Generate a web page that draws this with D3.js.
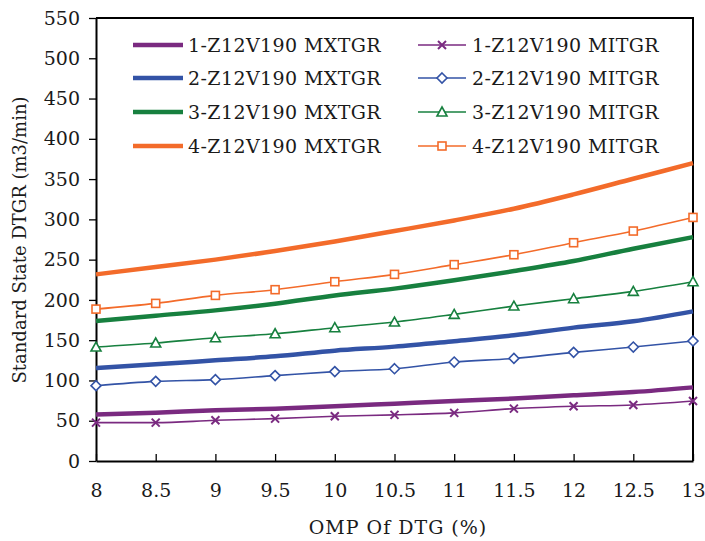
<!DOCTYPE html>
<html>
<head>
<meta charset="utf-8">
<script src="https://cdn.jsdelivr.net/npm/d3@7"></script>
<style>
  body { margin: 0; background: #fff; }
</style>
</head>
<body>
<div id="chart"></div>
<script>
// x values (OMP of DTG, %)
var omp = [8, 8.5, 9, 9.5, 10, 10.5, 11, 11.5, 12, 12.5, 13];

// max TGR curves (thick lines)
var mx1 = [57.6, 60, 62.9, 65, 67.9, 71.2, 74.5, 77.6, 81.5, 85.6, 91.4];
var mx2 = [115.4, 120, 125, 130, 137, 142, 148.8, 156, 165.6, 173.4, 185.8];
var mx3 = [173.7, 180.4, 187, 195.3, 205.6, 214, 224.3, 235.8, 248.2, 263.6, 278];
var mx4 = [231.7, 240.8, 250, 260.6, 272.6, 285.5, 298.7, 313.2, 331, 350.4, 369.8];

// min TGR curves (thin lines with markers)
var mi1 = [47.6, 47.6, 50.5, 52.6, 55.5, 57.3, 59.8, 65, 67.9, 69.6, 74.5];
var mi2 = [93.5, 98.9, 101, 106, 111, 114.6, 122.9, 127.4, 134.9, 141.5, 149];
var mi3 = [141.5, 146.5, 153, 158, 165.5, 172.5, 182, 192.4, 201.5, 210.6, 222.6];
var mi4 = [188.6, 195.7, 205.6, 212.7, 222.6, 231.7, 243.8, 256.1, 271, 285.5, 302.4];

var mxNames = ["1-Z12V190 MXTGR", "2-Z12V190 MXTGR", "3-Z12V190 MXTGR", "4-Z12V190 MXTGR"];
var miNames = ["1-Z12V190 MITGR", "2-Z12V190 MITGR", "3-Z12V190 MITGR", "4-Z12V190 MITGR"];
var xTicks = [8, 8.5, 9, 9.5, 10, 10.5, 11, 11.5, 12, 12.5, 13];
var yTicks = [0, 50, 100, 150, 200, 250, 300, 350, 400, 450, 500, 550];

var colors = ["#7a2a80", "#3353a6", "#17803f", "#f36b2a"];
var markers = ["x", "diamond", "triangle", "square"];

var serif = '"DejaVu Serif", serif';

var svgWidth = 705;
var svgHeight = 541;
var margin = { top: 18, right: 12, bottom: 80, left: 96 };
var width = svgWidth - margin.left - margin.right;
var height = svgHeight - margin.top - margin.bottom;

var svg = d3.select("#chart")
  .append("svg")
  .attr("width", svgWidth)
  .attr("height", svgHeight)
  .attr("font-family", serif)
  .style("font-family", serif);

var chartGroup = svg.append("g")
  .attr("transform", `translate(${margin.left}, ${margin.top})`);

var xScale = d3.scaleLinear().domain([8, 13]).range([0, width]);
var yScale = d3.scaleLinear().domain([0, 550]).range([height, 0]);

// frame (top / right)
chartGroup.append("path")
  .attr("d", `M0,0H${width}V${height}`)
  .attr("fill", "none")
  .attr("stroke", "#000")
  .attr("stroke-width", 2);

// axes
var bottomAxis = d3.axisBottom(xScale).tickValues(xTicks).tickSizeInner(-7).tickSizeOuter(0).tickPadding(23)
  .tickFormat(d3.format("~g"));
var leftAxis = d3.axisLeft(yScale).tickValues(yTicks).tickSizeInner(7).tickSizeOuter(0).tickPadding(9);

var gx = chartGroup.append("g")
  .attr("transform", `translate(0, ${height})`)
  .call(bottomAxis);
var gy = chartGroup.append("g").call(leftAxis);

[gx, gy].forEach(function(g) {
  g.attr("font-family", serif).attr("font-size", 19);
  g.select(".domain").attr("stroke", "#000").attr("stroke-width", 2);
  g.selectAll(".tick line").attr("stroke", "#000").attr("stroke-width", 1.3);
  g.selectAll(".tick text")
    .attr("fill", "#1a1a1a")
    .style("font-family", serif)
    .style("font-size", "19px");
});

var line = d3.line()
  .x((d, i) => xScale(omp[i]))
  .y(d => yScale(d))
  .curve(d3.curveMonotoneX);

// marker drawing helper
function drawMarker(g, type, color) {
  if (type === "x") {
    g.append("path").attr("d", "M-4,-4L4,4M-4,4L4,-4")
      .attr("stroke", color).attr("stroke-width", 2).attr("fill", "none");
  } else if (type === "diamond") {
    g.append("path").attr("d", "M0,-5L5,0L0,5L-5,0Z")
      .attr("stroke", color).attr("stroke-width", 1.6).attr("fill", "#fff");
  } else if (type === "triangle") {
    g.append("path").attr("d", "M0,-5L5,4L-5,4Z")
      .attr("stroke", color).attr("stroke-width", 1.6).attr("fill", "#fff");
  } else {
    g.append("rect").attr("x", -4).attr("y", -4).attr("width", 8).attr("height", 8)
      .attr("stroke", color).attr("stroke-width", 1.6).attr("fill", "#fff");
  }
}

var mxSeries = [mx1, mx2, mx3, mx4];
var miSeries = [mi1, mi2, mi3, mi4];

mxSeries.forEach(function(s, k) {
  chartGroup.append("path")
    .datum(s)
    .attr("d", line)
    .attr("fill", "none")
    .attr("stroke", colors[k])
    .attr("stroke-width", 4.5);
});

miSeries.forEach(function(s, k) {
  chartGroup.append("path")
    .datum(s)
    .attr("d", line)
    .attr("fill", "none")
    .attr("stroke", colors[k])
    .attr("stroke-width", 1.6);
  chartGroup.selectAll(".m" + k)
    .data(s)
    .enter()
    .append("g")
    .attr("class", "m" + k)
    .attr("transform", (d, i) => `translate(${xScale(omp[i])}, ${yScale(d)})`)
    .each(function() { drawMarker(d3.select(this), markers[k], colors[k]); });
});

function addText(parent) {
  return parent.append("text")
    .attr("fill", "#1a1a1a")
    .style("font-family", serif)
    .style("font-size", "19px");
}

// legend
var legend = svg.append("g");
var rowY = [45, 78, 112, 146];
mxNames.forEach(function(name, k) {
  legend.append("line")
    .attr("x1", 133).attr("x2", 183)
    .attr("y1", rowY[k]).attr("y2", rowY[k])
    .attr("stroke", colors[k]).attr("stroke-width", 4.5);
  addText(legend)
    .attr("x", 188).attr("y", rowY[k]).attr("dy", "0.35em")
    .style("letter-spacing", "0.4px")
    .text(name);
});
miNames.forEach(function(name, k) {
  legend.append("line")
    .attr("x1", 418).attr("x2", 466)
    .attr("y1", rowY[k]).attr("y2", rowY[k])
    .attr("stroke", colors[k]).attr("stroke-width", 1.6);
  var mg = legend.append("g").attr("transform", `translate(442, ${rowY[k]})`);
  drawMarker(mg, markers[k], colors[k]);
  addText(legend)
    .attr("x", 472).attr("y", rowY[k]).attr("dy", "0.35em")
    .style("letter-spacing", "0.4px")
    .text(name);
});

// axis titles
addText(svg)
  .attr("transform", "translate(26, 240) rotate(-90)")
  .attr("text-anchor", "middle")
  .style("font-size", "18px")
  .text("Standard State DTGR (m3/min)");

addText(svg)
  .attr("x", 398).attr("y", 534)
  .attr("text-anchor", "middle")
  .style("letter-spacing", "1px")
  .text("OMP Of DTG (%)");
</script>
</body>
</html>
